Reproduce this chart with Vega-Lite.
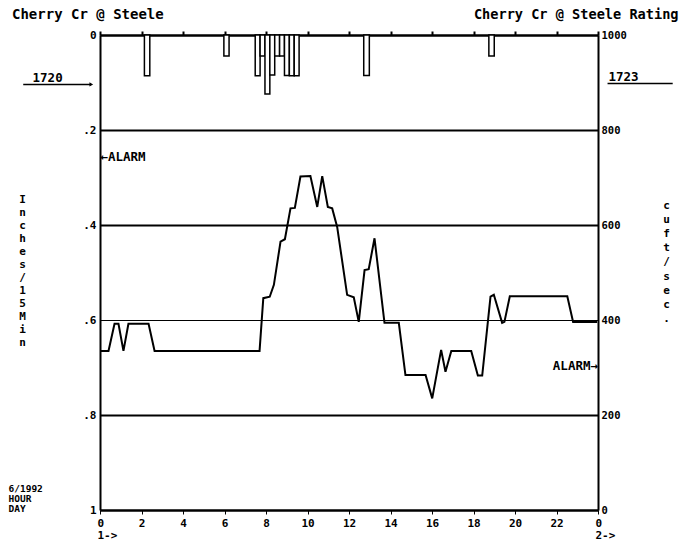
{
  "$schema": "https://vega.github.io/schema/vega-lite/v6.json",
  "autosize": {"type": "none"},
  "padding": {"left": 100, "top": 35, "right": 96, "bottom": 38},
  "width": 498,
  "height": 475,
  "background": "white",
  "config": {
    "view": {"stroke": null},
    "font": "DejaVu Sans Mono",
    "axis": {"labelFont": "DejaVu Sans Mono", "titleFont": "DejaVu Sans Mono", "labelFontWeight": "bold", "titleFontWeight": "bold", "labelColor": "black", "titleColor": "black", "domainColor": "black", "tickColor": "black", "domainWidth": 2}
  },
  "title": {"text": "Cherry Cr @ Steele", "anchor": "start", "frame": "group", "dx": -88, "dy": 23, "offset": 8, "font": "DejaVu Sans Mono", "fontSize": 14, "fontWeight": "bold", "color": "black"},
  "datasets": {
    "rain": [
      {"h": 2.14, "h2": 2.40, "rain": 0.086},
      {"h": 5.97, "h2": 6.22, "rain": 0.044},
      {"h": 7.48, "h2": 7.715, "rain": 0.086},
      {"h": 7.715, "h2": 7.95, "rain": 0.044},
      {"h": 7.95, "h2": 8.185, "rain": 0.124},
      {"h": 8.185, "h2": 8.42, "rain": 0.084},
      {"h": 8.42, "h2": 8.655, "rain": 0.044},
      {"h": 8.655, "h2": 8.89, "rain": 0.044},
      {"h": 8.89, "h2": 9.125, "rain": 0.085},
      {"h": 9.125, "h2": 9.36, "rain": 0.086},
      {"h": 9.36, "h2": 9.595, "rain": 0.086},
      {"h": 12.71, "h2": 12.98, "rain": 0.085},
      {"h": 18.74, "h2": 19.0, "rain": 0.044}
    ],
    "flow": [
      {"h": 0.0, "cfs": 335}, {"h": 0.41, "cfs": 335}, {"h": 0.70, "cfs": 392}, {"h": 0.89, "cfs": 392},
      {"h": 1.13, "cfs": 335}, {"h": 1.37, "cfs": 392}, {"h": 2.34, "cfs": 392}, {"h": 2.63, "cfs": 335},
      {"h": 7.69, "cfs": 335}, {"h": 7.87, "cfs": 446}, {"h": 8.18, "cfs": 449}, {"h": 8.38, "cfs": 474},
      {"h": 8.70, "cfs": 565}, {"h": 8.91, "cfs": 570}, {"h": 9.18, "cfs": 635}, {"h": 9.39, "cfs": 636},
      {"h": 9.66, "cfs": 702}, {"h": 10.14, "cfs": 703}, {"h": 10.47, "cfs": 638}, {"h": 10.71, "cfs": 703},
      {"h": 10.98, "cfs": 638}, {"h": 11.19, "cfs": 635}, {"h": 11.43, "cfs": 596}, {"h": 11.91, "cfs": 453},
      {"h": 12.23, "cfs": 448}, {"h": 12.47, "cfs": 396}, {"h": 12.75, "cfs": 505}, {"h": 12.95, "cfs": 507},
      {"h": 13.23, "cfs": 572}, {"h": 13.71, "cfs": 394}, {"h": 14.40, "cfs": 394}, {"h": 14.72, "cfs": 284},
      {"h": 15.69, "cfs": 284}, {"h": 16.01, "cfs": 235}, {"h": 16.44, "cfs": 337}, {"h": 16.65, "cfs": 291},
      {"h": 16.93, "cfs": 335}, {"h": 17.89, "cfs": 335}, {"h": 18.21, "cfs": 283}, {"h": 18.42, "cfs": 283},
      {"h": 18.82, "cfs": 449}, {"h": 18.98, "cfs": 453}, {"h": 19.38, "cfs": 394}, {"h": 19.49, "cfs": 396},
      {"h": 19.75, "cfs": 450}, {"h": 22.52, "cfs": 450}, {"h": 22.80, "cfs": 396}, {"h": 23.96, "cfs": 396}
    ],
    "notesLeft": [
      {"h": -3.25, "inch": 0.091, "label": "1720"},
      {"h": 24.5, "inch": 0.089, "label": "1723"},
      {"h": 0.02, "inch": 0.257, "label": "←ALARM"}
    ],
    "notesRight": [
      {"h": 24.0, "inch": 0.697, "label": "ALARM→"}
    ],
    "underlines": [
      {"h": -3.70, "h2": -0.45, "inch": 0.104},
      {"h": 24.46, "h2": 27.6, "inch": 0.102}
    ],
    "arrows": [
      {"h": -0.42, "inch": 0.104}
    ]
  },
  "resolve": {"scale": {"y": "independent"}, "axis": {"x": "independent", "y": "independent"}},
  "layer": [
    {
      "data": {"name": "rain"},
      "mark": {"type": "bar", "fill": "white", "stroke": "black", "strokeWidth": 1.5},
      "encoding": {
        "x": {"field": "h", "type": "quantitative", "scale": {"domain": [0, 24], "nice": false, "zero": false},
          "axis": {"orient": "bottom", "values": [0, 2, 4, 6, 8, 10, 12, 14, 16, 18, 20, 22, 24], "grid": false, "tickSize": 4, "labelPadding": 3, "labelFlush": false, "labelFontSize": 11, "labelLineHeight": 12.5,
            "labelExpr": "datum.value == 0 ? ['0', '1->'] : datum.value == 24 ? ['0', '2->'] : datum.label",
            "labelAlign": {"condition": {"test": "datum.value == 0 || datum.value == 24", "value": "left"}, "value": "center"},
            "labelOffset": {"condition": {"test": "datum.value == 0 || datum.value == 24", "value": -3}, "value": 0},
            "title": ["6/1992", "HOUR", "DAY"], "titleFontSize": 9.5, "titleLineHeight": 10, "titleAlign": "left", "titleAnchor": "start", "titleBaseline": "top", "titleX": -92, "titleY": -27}},
        "x2": {"field": "h2"},
        "y": {"field": "rain", "type": "quantitative", "scale": {"domain": [0, 1], "reverse": true, "nice": false, "zero": false},
          "axis": {"orient": "left", "values": [0, 0.2, 0.4, 0.6, 0.8, 1], "ticks": false, "labelPadding": 4, "labelFontSize": 11,
            "labelExpr": "datum.value == 0 ? '0' : datum.value == 1 ? '1' : replace(format(datum.value, '.1f'), '0.', '.')",
            "grid": true, "gridColor": "black", "gridOpacity": 1,
            "gridWidth": {"condition": {"test": "datum.value == 0.6", "value": 1}, "value": 2},
            "title": ["I", "n", "c", "h", "e", "s", "/", "1", "5", "M", "i", "n"], "titleAngle": 0, "titleFontSize": 11, "titleLineHeight": 13, "titleAlign": "center", "titleBaseline": "top", "titleX": -78, "titleY": 158}},
        "y2": {"datum": 0}
      }
    },
    {
      "data": {"name": "flow"},
      "mark": {"type": "line", "color": "black", "strokeWidth": 2},
      "encoding": {
        "x": {"field": "h", "type": "quantitative", "scale": {"domain": [0, 24], "nice": false, "zero": false},
          "axis": {"orient": "top", "values": [0, 2, 4, 6, 8, 10, 12, 14, 16, 18, 20, 22, 24], "labels": false, "grid": false, "tickSize": 4, "tickWidth": 2,
            "title": "Cherry Cr @ Steele Rating", "titleFontSize": 13.6, "titleAlign": "right", "titleAnchor": "end", "titleBaseline": "middle", "titleX": 578, "titleY": -21}},
        "y": {"field": "cfs", "type": "quantitative", "scale": {"domain": [0, 1000], "nice": false, "zero": false},
          "axis": {"orient": "right", "values": [0, 200, 400, 600, 800, 1000], "format": "d", "ticks": false, "labelPadding": 3, "labelFontSize": 10.5, "grid": false,
            "title": ["c", "u", "f", "t", " ", "/", "s", "e", "c", "."], "titleAngle": 0, "titleFontSize": 11, "titleLineHeight": 14.2, "titleAlign": "center", "titleBaseline": "top", "titleX": 68, "titleY": 164}}
      }
    },
    {
      "data": {"name": "notesLeft"},
      "mark": {"type": "text", "align": "left", "baseline": "middle", "font": "DejaVu Sans Mono", "fontWeight": "bold", "fontSize": 12.5, "color": "black"},
      "encoding": {
        "x": {"field": "h", "type": "quantitative", "scale": {"domain": [0, 24], "nice": false, "zero": false}, "axis": null},
        "y": {"field": "inch", "type": "quantitative", "scale": {"domain": [0, 1], "reverse": true, "nice": false, "zero": false}, "axis": null},
        "text": {"field": "label"}
      }
    },
    {
      "data": {"name": "notesRight"},
      "mark": {"type": "text", "align": "right", "baseline": "middle", "font": "DejaVu Sans Mono", "fontWeight": "bold", "fontSize": 12.5, "color": "black"},
      "encoding": {
        "x": {"field": "h", "type": "quantitative", "scale": {"domain": [0, 24], "nice": false, "zero": false}, "axis": null},
        "y": {"field": "inch", "type": "quantitative", "scale": {"domain": [0, 1], "reverse": true, "nice": false, "zero": false}, "axis": null},
        "text": {"field": "label"}
      }
    },
    {
      "data": {"name": "underlines"},
      "mark": {"type": "rule", "color": "black", "strokeWidth": 1.5},
      "encoding": {
        "x": {"field": "h", "type": "quantitative", "scale": {"domain": [0, 24], "nice": false, "zero": false}, "axis": null},
        "x2": {"field": "h2"},
        "y": {"field": "inch", "type": "quantitative", "scale": {"domain": [0, 1], "reverse": true, "nice": false, "zero": false}, "axis": null}
      }
    },
    {
      "data": {"name": "arrows"},
      "mark": {"type": "point", "shape": "triangle-right", "filled": true, "color": "black", "size": 18, "opacity": 1},
      "encoding": {
        "x": {"field": "h", "type": "quantitative", "scale": {"domain": [0, 24], "nice": false, "zero": false}, "axis": null},
        "y": {"field": "inch", "type": "quantitative", "scale": {"domain": [0, 1], "reverse": true, "nice": false, "zero": false}, "axis": null}
      }
    }
  ]
}
